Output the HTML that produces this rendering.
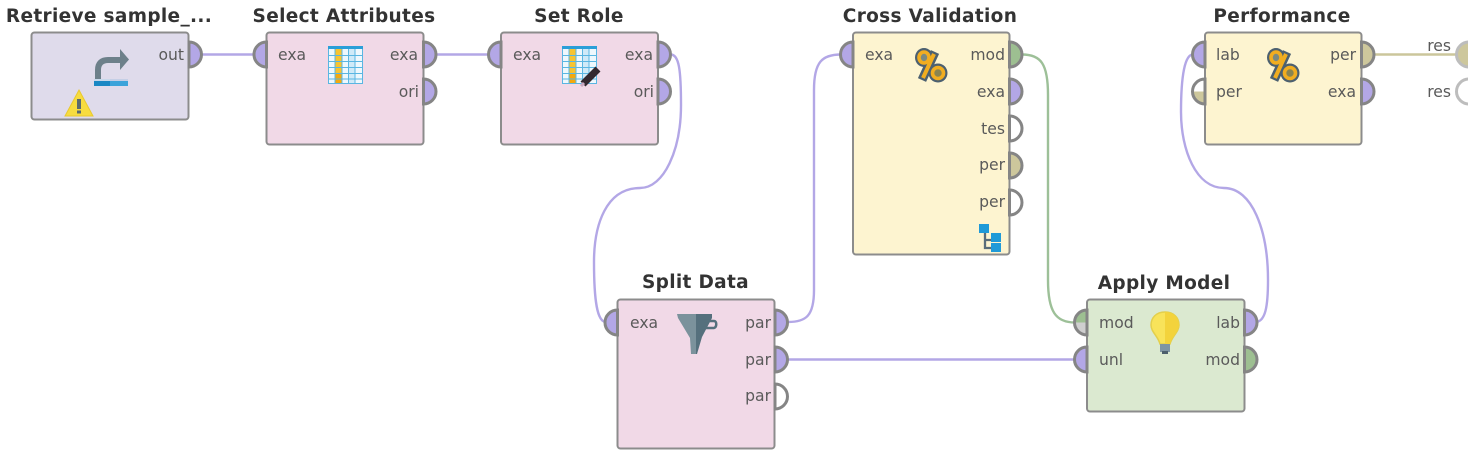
<!DOCTYPE html>
<html><head><meta charset="utf-8"><style>
html,body{margin:0;padding:0;background:#fff;width:1468px;height:453px;overflow:hidden}
svg{display:block}
.t{font:bold 18.5px "DejaVu Sans",sans-serif;fill:#333;text-anchor:middle;letter-spacing:.33px}
.l{font:15.6px "DejaVu Sans",sans-serif;fill:#5a5a5a}
.r{text-anchor:end}
.n{stroke:#8c8c8c;stroke-width:2}
.p{stroke:#858585;stroke-width:3}
.c{fill:none;stroke-width:2.4}
</style></head><body>
<svg width="1468" height="453" viewBox="0 0 1468 453" xmlns="http://www.w3.org/2000/svg">
<defs>
<g id="tbl">
<rect x="0" y="0" width="35" height="38" fill="#eef8fd"/>
<rect x="20" y="3" width="7" height="35" fill="#cfeaf8"/>
<rect x="7" y="3" width="7" height="35" fill="#f7c431"/>
<rect x="7" y="28" width="7" height="10" fill="#f3a90f"/>
<path d="M.5 0V38M7 3V38M14 3V38M20.500 3V38M27 3V38M34.500 0V38M0 9.500H35M0 15.500H35M0 21.500H35M0 27.500H35M0 33H35M0 37.500H35" stroke="#5ab6e2" stroke-width="1" fill="none"/>
<rect x="0" y="0" width="35" height="3" fill="#2a9fd8"/>
</g>
<g id="pct">
<path d="M20 4L7 32" stroke="#4c6070" stroke-width="9"/>
<ellipse cx="9" cy="9.500" rx="9" ry="9.500" fill="#4c6070"/>
<circle cx="23" cy="25" r="9.500" fill="#4c6070"/>
<ellipse cx="9" cy="9.500" rx="5" ry="5.500" fill="#7b8a80" stroke="#f1ad20" stroke-width="3.600"/>
<circle cx="23" cy="25" r="5.500" fill="#8a8450" stroke="#f1ad20" stroke-width="3.600"/>
<path d="M19 6L8 30" stroke="#f1ad20" stroke-width="4"/>
</g>
</defs>

<!-- connectors -->
<path class="c" stroke="#b3a7e6" d="M202 54.500H254"/>
<path class="c" stroke="#b3a7e6" d="M436 54.500H489"/>
<path class="c" stroke="#b3a7e6" d="M671 54.500C679 55 681 70 681 105C681 150 664 188 640 188C606 188 594 225 594 262C594 300 597 322 606 322"/>
<path class="c" stroke="#b3a7e6" d="M788 322C806 322 814 316 814 290V90C814 62 822 54.500 841 54.500"/>
<path class="c" stroke="#b3a7e6" d="M788 359.500H1075"/>
<path class="c" stroke="#9dc098" d="M1022 54.500C1041 54.500 1048 64 1048 95V280C1048 312 1056 322.500 1075 322.500"/>
<path class="c" stroke="#b3a7e6" d="M1257 322C1265 320 1268 308 1268 280C1268 230 1252 188 1224 188C1196 188 1181 150 1181 112C1181 75 1185 54.500 1193 54.500"/>
<path class="c" stroke="#cbc69b" d="M1373 54.500H1457"/>

<!-- nodes -->
<rect class="n" x="31.500" y="32.500" width="157" height="87" rx="3" fill="#dfdbeb"/>
<rect class="n" x="266.500" y="32.500" width="157" height="112" rx="3" fill="#f1d9e7"/>
<rect class="n" x="501" y="32.500" width="157" height="112" rx="3" fill="#f1d9e7"/>
<rect class="n" x="617.500" y="299.500" width="157" height="149" rx="3" fill="#f1d9e7"/>
<rect class="n" x="853" y="32.500" width="156.500" height="222" rx="3" fill="#fdf4d0"/>
<rect class="n" x="1087" y="299.500" width="157.500" height="112" rx="3" fill="#dbe9d0"/>
<rect class="n" x="1205" y="32.500" width="156.500" height="112" rx="3" fill="#fdf4d0"/>

<!-- titles -->
<text class="t" x="109" y="22">Retrieve sample_...</text>
<text class="t" x="344" y="22">Select Attributes</text>
<text class="t" x="579" y="22">Set Role</text>
<text class="t" x="695.500" y="288">Split Data</text>
<text class="t" x="930" y="22">Cross Validation</text>
<text class="t" x="1164" y="289">Apply Model</text>
<text class="t" x="1282" y="22">Performance</text>

<!-- ports: right -->
<g class="p">
<path fill="#b3a7e6" d="M189 42A12.500 12.500 0 0 1 189 67Z"/>
<path fill="#b3a7e6" d="M423.500 42A12.500 12.500 0 0 1 423.500 67Z"/>
<path fill="#b3a7e6" d="M423.500 79A12.500 12.500 0 0 1 423.500 104Z"/>
<path fill="#b3a7e6" d="M658 42A12.500 12.500 0 0 1 658 67Z"/>
<path fill="#b3a7e6" d="M658 79A12.500 12.500 0 0 1 658 104Z"/>
<path fill="#b3a7e6" d="M775 310A12.500 12.500 0 0 1 775 335Z"/>
<path fill="#b3a7e6" d="M775 347A12.500 12.500 0 0 1 775 372Z"/>
<path fill="#fff" d="M775 384A12.500 12.500 0 0 1 775 409Z"/>
<path fill="#9dbf91" d="M1009.500 42A12.500 12.500 0 0 1 1009.500 67Z"/>
<path fill="#b3a7e6" d="M1009.500 79A12.500 12.500 0 0 1 1009.500 104Z"/>
<path fill="#fff" d="M1009.500 116A12.500 12.500 0 0 1 1009.500 141Z"/>
<path fill="#cdc79c" d="M1009.500 153A12.500 12.500 0 0 1 1009.500 178Z"/>
<path fill="#fff" d="M1009.500 190A12.500 12.500 0 0 1 1009.500 215Z"/>
<path fill="#b3a7e6" d="M1244.500 310A12.500 12.500 0 0 1 1244.500 335Z"/>
<path fill="#9dbf91" d="M1244.500 347A12.500 12.500 0 0 1 1244.500 372Z"/>
<path fill="#cdc79c" d="M1361.500 42A12.500 12.500 0 0 1 1361.500 67Z"/>
<path fill="#b3a7e6" d="M1361.500 79A12.500 12.500 0 0 1 1361.500 104Z"/>
<!-- ports: left -->
<path fill="#b3a7e6" d="M266.500 42A12.500 12.500 0 0 0 266.500 67Z"/>
<path fill="#b3a7e6" d="M501 42A12.500 12.500 0 0 0 501 67Z"/>
<path fill="#b3a7e6" d="M617.500 310A12.500 12.500 0 0 0 617.500 335Z"/>
<path fill="#b3a7e6" d="M853 42A12.500 12.500 0 0 0 853 67Z"/>
<path fill="#b3a7e6" d="M1205 42A12.500 12.500 0 0 0 1205 67Z"/>
<path fill="#b3a7e6" d="M1087 347A12.500 12.500 0 0 0 1087 372Z"/>
</g>
<!-- split ports -->
<path fill="#9dbf91" d="M1087 310A12.500 12.500 0 0 0 1074.500 322.500H1087Z"/>
<path fill="#cfcfcf" d="M1074.500 322.500A12.500 12.500 0 0 0 1087 335V322.500Z"/>
<path fill="none" class="p" d="M1087 310A12.500 12.500 0 0 0 1087 335Z"/>
<path fill="#fff" d="M1205 79A12.500 12.500 0 0 0 1192.500 91.500H1205Z"/>
<path fill="#cdc79c" d="M1192.500 91.500A12.500 12.500 0 0 0 1205 104V91.500Z"/>
<path fill="none" class="p" d="M1205 79A12.500 12.500 0 0 0 1205 104Z"/>
<!-- result ports -->
<circle cx="1469" cy="54.500" r="12.500" fill="#cdc79c" stroke="#bdbdbd" stroke-width="3"/>
<circle cx="1469" cy="91.500" r="12.500" fill="#fff" stroke="#bdbdbd" stroke-width="3"/>

<!-- labels -->
<text class="l r" x="184" y="60">out</text>
<text class="l" x="278" y="60">exa</text>
<text class="l r" x="418" y="60">exa</text>
<text class="l r" x="419" y="97">ori</text>
<text class="l" x="513" y="60">exa</text>
<text class="l r" x="653" y="60">exa</text>
<text class="l r" x="654" y="97">ori</text>
<text class="l" x="630" y="328">exa</text>
<text class="l r" x="771" y="328">par</text>
<text class="l r" x="771" y="365">par</text>
<text class="l r" x="771" y="401">par</text>
<text class="l" x="865" y="60">exa</text>
<text class="l r" x="1005" y="60">mod</text>
<text class="l r" x="1005" y="97">exa</text>
<text class="l r" x="1005" y="134">tes</text>
<text class="l r" x="1005" y="170">per</text>
<text class="l r" x="1005" y="207">per</text>
<text class="l" x="1099" y="328">mod</text>
<text class="l" x="1099" y="365">unl</text>
<text class="l r" x="1240" y="328">lab</text>
<text class="l r" x="1240" y="365">mod</text>
<text class="l" x="1216" y="60">lab</text>
<text class="l" x="1216" y="97">per</text>
<text class="l r" x="1356" y="60">per</text>
<text class="l r" x="1356" y="97">exa</text>
<text class="l r" x="1451" y="51">res</text>
<text class="l r" x="1451" y="97">res</text>

<!-- icons -->
<path d="M98 79V70C98 63 102 60 108 60H121" fill="none" stroke="#6d808a" stroke-width="6"/>
<path d="M120 49L129 59.500L120 70Z" fill="#6d808a"/>
<rect x="94" y="79" width="16" height="2" fill="#c8d8ea"/>
<rect x="110" y="79" width="18" height="2" fill="#c5cfe6"/>
<rect x="94" y="81" width="16" height="5" fill="#1a87c4"/>
<rect x="110" y="81" width="18" height="5" fill="#3ba3da"/>
<path d="M79 90L93 116H65Z" fill="#f7dc3f" stroke="#eac92e" stroke-width="1"/>
<rect x="77" y="99" width="4" height="10" fill="#5b6a6f"/>
<rect x="77" y="110.500" width="4" height="3" fill="#5b6a6f"/>

<use href="#tbl" x="328" y="46"/>
<use href="#tbl" x="562" y="46"/>
<path d="M583 84L598 69" stroke="#33282f" stroke-width="7"/>
<path d="M581 86L584 83" stroke="#c9a8c0" stroke-width="3"/>

<path d="M677 314H696V354H691L690 338L678 318Z" fill="#7b929c"/>
<path d="M696 314H712V318L702 337L697 354H696Z" fill="#55707d"/>
<path d="M704 321H714C717 321 717 327 714 328H702" fill="none" stroke="#55707d" stroke-width="2.500"/>

<use href="#pct" x="915" y="48"/>
<use href="#pct" x="1267" y="48"/>

<rect x="979" y="224" width="10" height="9" fill="#1f9ad8"/>
<path d="M985 233V248H992M985 240H992" stroke="#5a6d7a" stroke-width="2.300" fill="none"/>
<rect x="991" y="233" width="10" height="9" fill="#1f9ad8"/>
<rect x="991" y="243" width="10" height="9" fill="#1f9ad8"/>

<path d="M1165 312C1156 312 1151 318 1151 325C1151 332 1158 336 1160 344H1170C1172 336 1179 332 1179 325C1179 318 1174 312 1165 312Z" fill="#f8e35a" stroke="#e3cf4c" stroke-width="1.500"/>
<path d="M1165 312C1174 312 1179 318 1179 325C1179 332 1172 336 1170 344H1165Z" fill="#f3d33c"/>
<rect x="1160" y="344" width="10" height="8" fill="#7f95a4"/>
<rect x="1162" y="351" width="6" height="3" fill="#4c5f6c"/>
</svg>
</body></html>
